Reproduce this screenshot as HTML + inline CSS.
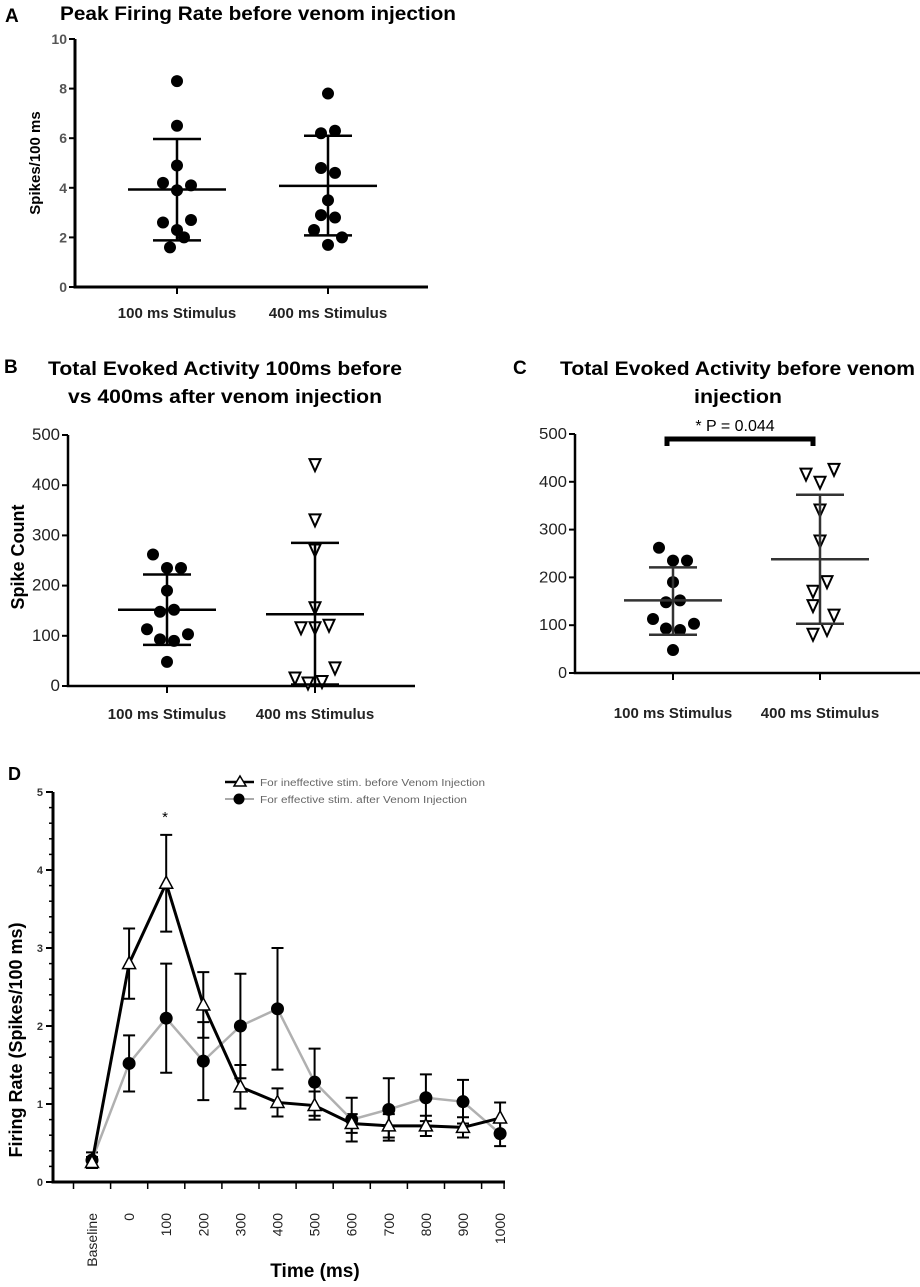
<!DOCTYPE html>
<html><head><meta charset="utf-8"><style>
body{margin:0;background:#fff;width:920px;height:1287px;overflow:hidden}
svg{display:block;font-family:"Liberation Sans",sans-serif}
</style></head><body>
<svg id="fig" width="920" height="1287" viewBox="0 0 920 1287">
<text x="5" y="22" font-size="19" font-weight="bold">A</text>
<text x="60" y="20" font-size="19" font-weight="bold" textLength="396" lengthAdjust="spacingAndGlyphs">Peak Firing Rate before venom injection</text>
<text transform="translate(40,163) rotate(-90)" text-anchor="middle" font-size="15" font-weight="bold">Spikes/100 ms</text>
<text x="4" y="373" font-size="19" font-weight="bold">B</text>
<text x="48" y="375" font-size="19" font-weight="bold" textLength="354" lengthAdjust="spacingAndGlyphs">Total Evoked Activity 100ms  before</text>
<text x="68" y="403" font-size="19" font-weight="bold" textLength="314" lengthAdjust="spacingAndGlyphs">vs 400ms  after venom injection</text>
<text transform="translate(24,557) rotate(-90)" text-anchor="middle" font-size="18" font-weight="bold">Spike Count</text>
<text x="513" y="374" font-size="19" font-weight="bold">C</text>
<text x="560" y="375" font-size="19" font-weight="bold" textLength="355" lengthAdjust="spacingAndGlyphs">Total Evoked Activity before venom</text>
<text x="738" y="403" font-size="19" font-weight="bold" text-anchor="middle" textLength="88" lengthAdjust="spacingAndGlyphs">injection</text>
<text x="735" y="431" font-size="16" text-anchor="middle">* P = 0.044</text>
<path d="M667,446 V439 H813 V446" fill="none" stroke="#000" stroke-width="5"/>
<text x="8" y="780" font-size="18" font-weight="bold">D</text>
<text transform="translate(22,1040) rotate(-90)" text-anchor="middle" font-size="18" font-weight="bold">Firing Rate  (Spikes/100 ms)</text>
<text x="315" y="1277" font-size="19" font-weight="bold" text-anchor="middle">Time (ms)</text>
<text x="165" y="822" font-size="15" text-anchor="middle">*</text>
<g>
<line x1="225" y1="782" x2="254" y2="782" stroke="#000" stroke-width="2.5"/>
<path d="M240,776 L246,786 L234,786 Z" fill="#fff" stroke="#000" stroke-width="1.5"/>
<text x="260" y="786" font-size="10" fill="#666" textLength="225" lengthAdjust="spacingAndGlyphs">For ineffective stim. before Venom Injection</text>
<line x1="225" y1="799" x2="254" y2="799" stroke="#aaa" stroke-width="2"/>
<circle cx="239" cy="799" r="5.5" fill="#000"/>
<text x="260" y="803" font-size="10" fill="#666" textLength="207" lengthAdjust="spacingAndGlyphs">For effective stim. after Venom Injection</text>
</g>
<g id="gA"></g><g id="gB"></g><g id="gC"></g><g id="gD"></g>
</svg>
<script>
// Panel A data
const aCats = ["100 ms Stimulus", "400 ms Stimulus"];
const aTicks = [0, 2, 4, 6, 8, 10];
const aVals1 = [8.3, 6.5, 4.9, 4.2, 4.1, 3.9, 2.6, 2.7, 2.3, 2.0, 1.6];
const aVals2 = [7.8, 6.2, 6.3, 4.8, 4.6, 3.5, 2.9, 2.8, 2.3, 2.0, 1.7];
const aJit1 = [0, 0, 0, -14, 14, 0, -14, 14, 0, 7, -7];
const aJit2 = [0, -7, 7, -7, 7, 0, -7, 7, -14, 14, 0];
const aMean = [3.93, 4.08];
const aLow = [1.88, 2.08];
const aHigh = [5.97, 6.1];
// Panel B data
const bCats = ["100 ms Stimulus", "400 ms Stimulus"];
const bTicks = [0, 100, 200, 300, 400, 500];
const bVals1 = [262, 235, 235, 190, 148, 152, 113, 103, 93, 90, 48];
const bJit1 = [-14, 0, 14, 0, -7, 7, -20, 21, -7, 7, 0];
const bVals2 = [440, 330, 270, 155, 115, 115, 120, 35, 15, 5, 8];
const bJit2 = [0, 0, 0, 0, -14, 0, 14, 20, -20, -7, 7];
const bMean = [152, 143];
const bLow = [82, 3];
const bHigh = [222, 285];
// Panel C data
const cCats = ["100 ms Stimulus", "400 ms Stimulus"];
const cTicks = [0, 100, 200, 300, 400, 500];
const cVals1 = [262, 235, 235, 190, 148, 152, 113, 103, 93, 90, 48];
const cJit1 = [-14, 0, 14, 0, -7, 7, -20, 21, -7, 7, 0];
const cVals2 = [425, 415, 398, 340, 275, 190, 170, 140, 120, 90, 80];
const cJit2 = [14, -14, 0, 0, 0, 7, -7, -7, 14, 7, -7];
const cMean = [152, 238];
const cLow = [80, 103];
const cHigh = [221, 373];
// Panel D data
const dCats = ["Baseline","0","100","200","300","400","500","600","700","800","900","1000"];
const dTicks = [0, 1, 2, 3, 4, 5];
const dTri = [0.25, 2.8, 3.83, 2.27, 1.22, 1.02, 0.98, 0.75, 0.72, 0.72, 0.70, 0.82];
const dTriErr = [0.07, 0.45, 0.62, 0.42, 0.28, 0.18, 0.18, 0.12, 0.15, 0.13, 0.13, 0.2];
const dCir = [0.28, 1.52, 2.1, 1.55, 2.0, 2.22, 1.28, 0.8, 0.93, 1.08, 1.03, 0.62];
const dCirErr = [0.1, 0.36, 0.7, 0.5, 0.67, 0.78, 0.43, 0.28, 0.4, 0.3, 0.28, 0.16];

const NS = "http://www.w3.org/2000/svg";
function mk(parent, tag, attrs){const e=document.createElementNS(NS,tag);for(const k in attrs)e.setAttribute(k,attrs[k]);parent.appendChild(e);return e;}

function scatterPanel(g, o){
  const y = v => o.y0 - (v - o.min)/(o.max - o.min)*(o.y0 - o.y1);
  const ax = mk(g,"path",{d:`M${o.ax},${o.y1} V${o.y0} H${o.xEnd}`,fill:"none",stroke:"#000","stroke-width":o.aw||3});
  
  
  o.ticks.forEach(t=>{
    mk(g,"line",{x1:o.ax-6,x2:o.ax,y1:y(t),y2:y(t),stroke:"#000","stroke-width":2});
    const tx = mk(g,"text",{x:o.ax-8,y:y(t)+5,"text-anchor":"end","font-size":o.tfs,fill:o.tcol,"font-weight":o.tbold?"bold":"normal"});
    if(o.tlen && String(t).length===3){tx.setAttribute("textLength",o.tlen);tx.setAttribute("lengthAdjust","spacingAndGlyphs");}
    tx.textContent = t;
    
    
  });
  o.cats.forEach((c,i)=>{
    const cx = o.cx[i];
    mk(g,"line",{x1:cx,x2:cx,y1:o.y0,y2:o.y0+7,stroke:"#000","stroke-width":2});
    const tx = mk(g,"text",{x:cx,y:o.labY,"text-anchor":"middle","font-size":15,"font-weight":"bold",fill:"#222"});
    tx.textContent = c;
    
    
    const vals = o.vals[i], jit = o.jit[i];
    vals.forEach((v,j)=>{
      let m;
      if(o.shape[i]==="circle") m = mk(g,"circle",{cx:cx+jit[j],cy:y(v),r:6,fill:"#000"});
      else { const px=cx+jit[j], py=y(v);
        m = mk(g,"path",{d:`M${px-5.5},${py-6} H${px+5.5} L${px},${py+6} Z`,fill:"#fff",stroke:"#000","stroke-width":2}); }
      
      
    });
    const ec = o.errCol || "#000";
    const eb = mk(g,"path",{d:`M${cx},${y(o.low[i])} V${y(o.high[i])} M${cx-24},${y(o.low[i])} H${cx+24} M${cx-24},${y(o.high[i])} H${cx+24}`,fill:"none",stroke:ec,"stroke-width":2.5});
    
    
    const mn = mk(g,"line",{x1:cx-49,x2:cx+49,y1:y(o.mean[i]),y2:y(o.mean[i]),stroke:ec,"stroke-width":2.5});
    
    
  });
}
scatterPanel(document.getElementById("gA"),{p:"panel-a",min:0,max:10,y0:287,y1:39,ax:75,xEnd:428,cx:[177,328],ticks:aTicks,cats:aCats,vals:[aVals1,aVals2],jit:[aJit1,aJit2],shape:["circle","circle"],mean:aMean,low:aLow,high:aHigh,labY:318,tfs:14,tcol:"#555",tbold:true});
scatterPanel(document.getElementById("gB"),{p:"panel-b",min:0,max:500,y0:686,y1:435,ax:68,xEnd:415,cx:[167,315],ticks:bTicks,cats:bCats,vals:[bVals1,bVals2],jit:[bJit1,bJit2],shape:["circle","tri"],mean:bMean,low:bLow,high:bHigh,labY:719,tfs:17,tcol:"#222",tlen:28,aw:2.5});
scatterPanel(document.getElementById("gC"),{p:"panel-c",min:0,max:500,y0:673,y1:434,ax:575,xEnd:920,cx:[673,820],ticks:cTicks,cats:cCats,vals:[cVals1,cVals2],jit:[cJit1,cJit2],shape:["circle","tri"],mean:cMean,low:cLow,high:cHigh,labY:718,tfs:16,tcol:"#222",tlen:28,errCol:"#333",aw:2.5});

// Panel D
(function(){
  const g = document.getElementById("gD");
  const y = v => 1182 - v*78;
  const x = i => 92 + i*37.1;
  const ax = mk(g,"path",{d:`M53,792 V1182 H505`,fill:"none",stroke:"#000","stroke-width":3});
  
  
  for(let v=0; v<=5.001; v+=0.2){ mk(g,"line",{x1:49,x2:53,y1:y(v),y2:y(v),stroke:"#000","stroke-width":1.5}); }
  dTicks.forEach(t=>{
    mk(g,"line",{x1:46,x2:53,y1:y(t),y2:y(t),stroke:"#000","stroke-width":2});
    const tx = mk(g,"text",{x:43,y:y(t)+4,"text-anchor":"end","font-size":11,"font-weight":"bold",fill:"#333"});
    tx.textContent=t;
    
    
  });
  dCats.forEach((c,i)=>{
    mk(g,"line",{x1:x(i)-18.5,x2:x(i)-18.5,y1:1182,y2:1189,stroke:"#000","stroke-width":1.5});
    const tx = mk(g,"text",{transform:`translate(${x(i)+5},1213) rotate(-90)`,"text-anchor":"end","font-size":14,fill:"#222"});
    tx.textContent=c;
    
    
  });
  mk(g,"line",{x1:x(11)+4,x2:x(11)+4,y1:1182,y2:1189,stroke:"#000","stroke-width":1.5});
  function err(vals, errs, name){
    vals.forEach((v,i)=>{
      const e = mk(g,"path",{d:`M${x(i)},${y(v-errs[i])} V${y(v+errs[i])} M${x(i)-6},${y(v-errs[i])} H${x(i)+6} M${x(i)-6},${y(v+errs[i])} H${x(i)+6}`,fill:"none",stroke:"#000","stroke-width":2});
      
      
    });
  }
  err(dCir,dCirErr,'after-error-bar');
  err(dTri,dTriErr,'before-error-bar');
  const l2 = mk(g,"polyline",{points:dCir.map((v,i)=>`${x(i)},${y(v)}`).join(" "),fill:"none",stroke:"#b0b0b0","stroke-width":2.5});
  
  
  const l1 = mk(g,"polyline",{points:dTri.map((v,i)=>`${x(i)},${y(v)}`).join(" "),fill:"none",stroke:"#000","stroke-width":3});
  
  
  dCir.forEach((v,i)=>{
    const c = mk(g,"circle",{cx:x(i),cy:y(v),r:6.5,fill:"#000"});
    
    
  });
  dTri.forEach((v,i)=>{
    const px=x(i), py=y(v);
    const t = mk(g,"path",{d:`M${px},${py-7} L${px+6.5},${py+5} L${px-6.5},${py+5} Z`,fill:"#fff",stroke:"#000","stroke-width":1.5});
    
    
  });
})();
</script>
</body></html>
